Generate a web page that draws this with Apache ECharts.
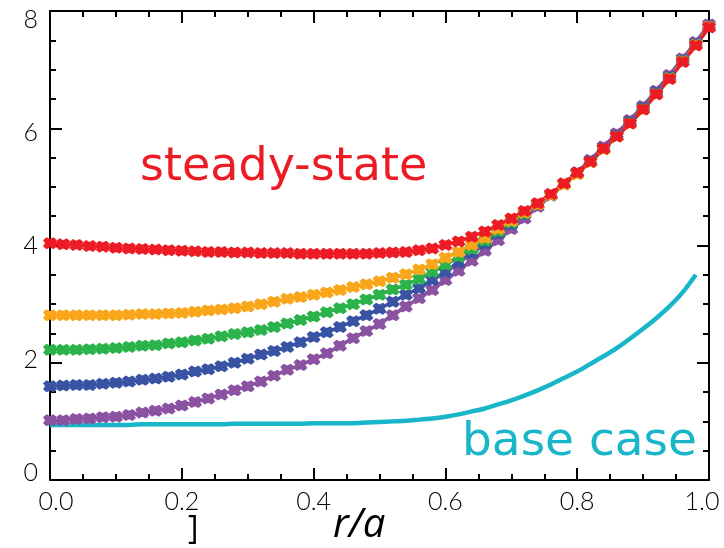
<!DOCTYPE html>
<html>
<head>
<meta charset="utf-8">
<script src="https://cdn.jsdelivr.net/npm/echarts@6/dist/echarts.min.js"></script>
<style>
html, body { margin: 0; padding: 0; background: #ffffff; }
#chart { width: 724px; height: 548px; }
</style>
</head>
<body>
<div id="chart"></div>
<script>
// normalised minor radius r/a
const radius = [
  0.00, 0.02, 0.04, 0.06, 0.08, 0.10, 0.12, 0.14, 0.16, 0.18,
  0.20, 0.22, 0.24, 0.26, 0.28, 0.30, 0.32, 0.34, 0.36, 0.38,
  0.40, 0.42, 0.44, 0.46, 0.48, 0.50, 0.52, 0.54, 0.56, 0.58,
  0.60, 0.62, 0.64, 0.66, 0.68, 0.70, 0.72, 0.74, 0.76, 0.78,
  0.80, 0.82, 0.84, 0.86, 0.88, 0.90, 0.92, 0.94, 0.96, 0.98,
  1.00
];

// steady-state profiles
const profileRed = [
  4.04, 4.02, 4.01, 3.99, 3.98, 3.96, 3.95, 3.94, 3.93, 3.92,
  3.91, 3.90, 3.89, 3.89, 3.88, 3.88, 3.87, 3.87, 3.87, 3.86,
  3.86, 3.86, 3.86, 3.86, 3.86, 3.87, 3.88, 3.89, 3.92, 3.95,
  4.01, 4.07, 4.15, 4.24, 4.35, 4.46, 4.59, 4.72, 4.88, 5.06,
  5.24, 5.43, 5.65, 5.86, 6.08, 6.32, 6.58, 6.84, 7.13, 7.41,
  7.72
];
const profileOrange = [
  2.81, 2.81, 2.81, 2.81, 2.81, 2.81, 2.82, 2.83, 2.83, 2.84,
  2.85, 2.87, 2.89, 2.91, 2.93, 2.96, 3.00, 3.04, 3.09, 3.12,
  3.16, 3.20, 3.24, 3.29, 3.34, 3.39, 3.45, 3.51, 3.59, 3.68,
  3.79, 3.89, 4.01, 4.13, 4.28, 4.42, 4.56, 4.70, 4.86, 5.04,
  5.22, 5.42, 5.64, 5.86, 6.08, 6.32, 6.58, 6.85, 7.14, 7.42,
  7.73
];
const profileGreen = [
  2.22, 2.22, 2.22, 2.23, 2.24, 2.25, 2.27, 2.29, 2.30, 2.33,
  2.35, 2.38, 2.41, 2.45, 2.49, 2.52, 2.56, 2.61, 2.67, 2.73,
  2.79, 2.86, 2.93, 3.00, 3.08, 3.16, 3.25, 3.33, 3.43, 3.55,
  3.67, 3.81, 3.94, 4.08, 4.24, 4.39, 4.54, 4.70, 4.86, 5.04,
  5.22, 5.42, 5.64, 5.86, 6.09, 6.33, 6.59, 6.86, 7.15, 7.43,
  7.73
];
const profileBlue = [
  1.60, 1.61, 1.62, 1.62, 1.64, 1.66, 1.68, 1.71, 1.73, 1.76,
  1.80, 1.85, 1.89, 1.94, 2.00, 2.07, 2.14, 2.20, 2.27, 2.35,
  2.44, 2.52, 2.61, 2.71, 2.81, 2.92, 3.04, 3.16, 3.27, 3.41,
  3.55, 3.71, 3.87, 4.03, 4.20, 4.36, 4.53, 4.70, 4.87, 5.05,
  5.24, 5.44, 5.66, 5.88, 6.11, 6.35, 6.61, 6.88, 7.16, 7.44,
  7.74
];
const profilePurple = [
  1.02, 1.02, 1.04, 1.05, 1.07, 1.08, 1.11, 1.15, 1.18, 1.22,
  1.27, 1.33, 1.39, 1.46, 1.53, 1.60, 1.68, 1.78, 1.88, 1.96,
  2.06, 2.16, 2.29, 2.42, 2.54, 2.66, 2.81, 2.96, 3.10, 3.24,
  3.41, 3.57, 3.74, 3.91, 4.09, 4.28, 4.46, 4.66, 4.85, 5.05,
  5.25, 5.46, 5.69, 5.91, 6.14, 6.38, 6.64, 6.91, 7.19, 7.47,
  7.77
];

// base case profile (ends at r/a = 0.98)
const baseRadius = radius.slice(0, 50);
const profileBase = [
  0.94, 0.94, 0.94, 0.94, 0.94, 0.94, 0.94, 0.95, 0.95, 0.95,
  0.95, 0.95, 0.95, 0.95, 0.96, 0.96, 0.96, 0.96, 0.96, 0.96,
  0.97, 0.97, 0.97, 0.97, 0.98, 0.99, 1.00, 1.01, 1.03, 1.05,
  1.08, 1.12, 1.17, 1.22, 1.29, 1.36, 1.44, 1.53, 1.63, 1.74,
  1.85, 1.98, 2.11, 2.25, 2.41, 2.58, 2.76, 2.96, 3.20, 3.50
];

const yTickLabels = [0, 2, 4, 6, 8];
const xTickLabels = [0, 0.2, 0.4, 0.6, 0.8, 1.0];

const colors = {
  red: '#ED1C24',
  orange: '#FAA61A',
  green: '#2BB34B',
  blue: '#3953A4',
  purple: '#8A52A1',
  cyan: '#19B5C8'
};

// heavy "x" marker
const crossMark = 'path://M0,2.5L2.5,0L5,1.5L7.5,0L10,2.5L8.5,5L10,7.5L7.5,10L5,8.5L2.5,10L0,7.5L1.5,5Z';
const tickFont = 'Lato';
const tickWeight = 300;

function pairs(xs, ys) {
  return ys.map((v, i) => [xs[i], v]);
}

function markedSeries(name, values, color) {
  return {
    name: name,
    type: 'line',
    data: pairs(radius, values),
    symbol: crossMark,
    symbolSize: [14, 12],
    showSymbol: true,
    symbolKeepAspect: false,
    lineStyle: { color: color, width: 3.5 },
    itemStyle: { color: color, borderWidth: 0 },
    emphasis: { disabled: true },
    silent: true
  };
}

const frameAxis = {
  axisLine: { show: true, onZero: false, lineStyle: { color: '#000', width: 2 } },
  axisTick: { show: true, inside: true, length: 12, lineStyle: { color: '#000', width: 2 } },
  minorTick: { show: true, splitNumber: 4, length: 6, lineStyle: { color: '#000', width: 2 } },
  splitLine: { show: false },
  minorSplitLine: { show: false }
};

const chart = echarts.init(document.getElementById('chart'), null, { renderer: 'canvas' });

chart.setOption({
  animation: false,
  backgroundColor: '#ffffff',
  grid: { left: 50, right: 15, top: 11, bottom: 68, containLabel: false },
  xAxis: [
    Object.assign({}, frameAxis, {
      type: 'value', position: 'bottom', min: 0, max: 1, interval: 0.2,
      axisLabel: {
        show: true, margin: 9, color: '#000',
        fontFamily: tickFont, fontWeight: tickWeight, fontSize: 25,
        customValues: xTickLabels,
        formatter: function (v) {
          if (v === 0) return '{first|0.0}';
          if (v === 1) return '{last|1.0}';
          return v.toFixed(1);
        },
        rich: {
          first: { fontFamily: tickFont, fontWeight: tickWeight, fontSize: 25, color: '#000', padding: [0, 0, 0, 12] },
          last: { fontFamily: tickFont, fontWeight: tickWeight, fontSize: 25, color: '#000', padding: [0, 14, 0, 0] }
        }
      }
    }),
    Object.assign({}, frameAxis, {
      type: 'value', position: 'top', min: 0, max: 1, interval: 0.2,
      axisLabel: { show: false }
    })
  ],
  yAxis: [
    Object.assign({}, frameAxis, {
      type: 'value', position: 'left', min: 0, max: 8, interval: 2,
      axisLabel: { show: false }
    }),
    Object.assign({}, frameAxis, {
      type: 'value', position: 'right', min: 0, max: 8, interval: 2,
      axisLabel: { show: false }
    }),
    {
      // tick labels for the left axis
      type: 'value', position: 'left', min: -0.129, max: 8.157,
      axisLine: { show: false }, axisTick: { show: false },
      splitLine: { show: false },
      axisLabel: {
        show: true, margin: 12, color: '#000',
        fontFamily: tickFont, fontWeight: tickWeight, fontSize: 25,
        customValues: yTickLabels,
        formatter: function (v) { return String(v); }
      }
    }
  ],
  series: [
    {
      name: 'base case',
      type: 'line',
      data: pairs(baseRadius, profileBase),
      showSymbol: false,
      symbol: 'none',
      smooth: 0.3,
      lineStyle: { color: colors.cyan, width: 4.5 },
      emphasis: { disabled: true },
      silent: true
    },
    markedSeries('purple', profilePurple, colors.purple),
    markedSeries('blue', profileBlue, colors.blue),
    markedSeries('green', profileGreen, colors.green),
    markedSeries('orange', profileOrange, colors.orange),
    markedSeries('red', profileRed, colors.red)
  ],
  graphic: [
    {
      type: 'text', left: 140, top: 145, silent: true,
      style: { text: 'steady-state', fill: colors.red, font: '46px "DejaVu Sans"' }
    },
    {
      type: 'text', left: 462, top: 419, silent: true,
      style: { text: 'base case', fill: colors.cyan, font: '47px "DejaVu Sans"' }
    },
    {
      type: 'text', left: 333, top: 506, silent: true,
      style: { text: 'r/a', fill: '#000', font: 'italic 40px "Open Sans"' }
    },
    {
      type: 'text', left: 188, top: 514, silent: true,
      style: { text: ']', fill: '#000', font: '32px "Open Sans"' }
    }
  ]
});
</script>
</body>
</html>
